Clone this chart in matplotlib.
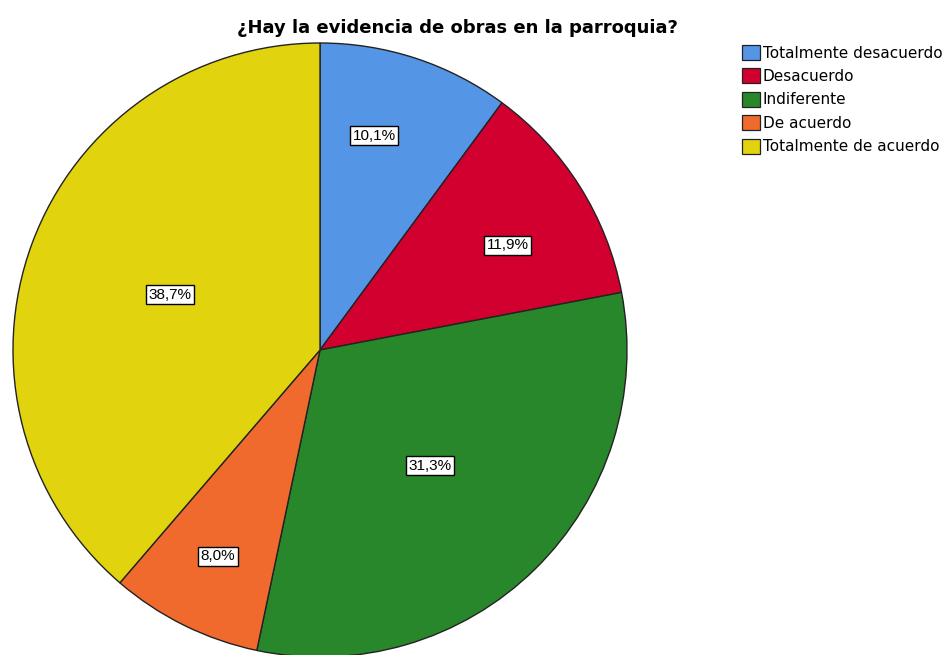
import matplotlib
matplotlib.use("Agg")
import matplotlib.pyplot as plt
import numpy as np
from matplotlib.patches import Patch

categories = ["Totalmente desacuerdo", "Desacuerdo", "Indiferente",
              "De acuerdo", "Totalmente de acuerdo"]
percentages = [10.1, 11.9, 31.3, 8.0, 38.7]
colors = ["#5595E6", "#D2002F", "#28872A", "#F06A2D", "#E2D30F"]
title = "¿Hay la evidencia de obras en la parroquia?"

# label placement (fraction of radius, angle nudge in degrees) as in the original
label_dist = [0.72, 0.70, 0.52, 0.75, 0.52]
label_shift = [4.0, -3.0, -1.0, 0.0, 0.0]

W, H = 948, 655
cx, cy, R = 320, H - 350, 307
fig = plt.figure(figsize=(W / 100, H / 100), dpi=100)
ax = fig.add_axes([0, 0, 1, 1])

wedges, texts = ax.pie(
    percentages, colors=colors, startangle=90, counterclock=False,
    center=(cx, cy), radius=R,
    wedgeprops=dict(edgecolor="#222222", linewidth=1.0),
)
for w, p, d, s in zip(wedges, percentages, label_dist, label_shift):
    ang = np.deg2rad((w.theta1 + w.theta2) / 2 + s)
    ax.text(cx + d * R * np.cos(ang), cy + d * R * np.sin(ang),
            f"{p:.1f}%".replace(".", ","), ha="center", va="center",
            fontsize=11, family="Liberation Sans",
            bbox=dict(boxstyle="square,pad=0.16", facecolor="white",
                      edgecolor="black", linewidth=1.0))

ax.set_xlim(0, W)
ax.set_ylim(0, H)
ax.set_aspect("equal")
ax.axis("off")

fig.text(457 / W, 1 - 28 / H, title, ha="center", va="center",
         fontsize=13, fontweight="bold", family="DejaVu Sans")

handles = [Patch(facecolor=c, edgecolor="#222222", linewidth=0.9) for c in colors]
fig.legend(handles, categories, loc="upper left",
           bbox_to_anchor=(742 / W, 1 - 45 / H), frameon=False,
           fontsize=11, handlelength=1.15, handleheight=1.1,
           handletextpad=0.2, labelspacing=0.52, borderpad=0, borderaxespad=0)

fig.savefig("out.png", dpi=100)
